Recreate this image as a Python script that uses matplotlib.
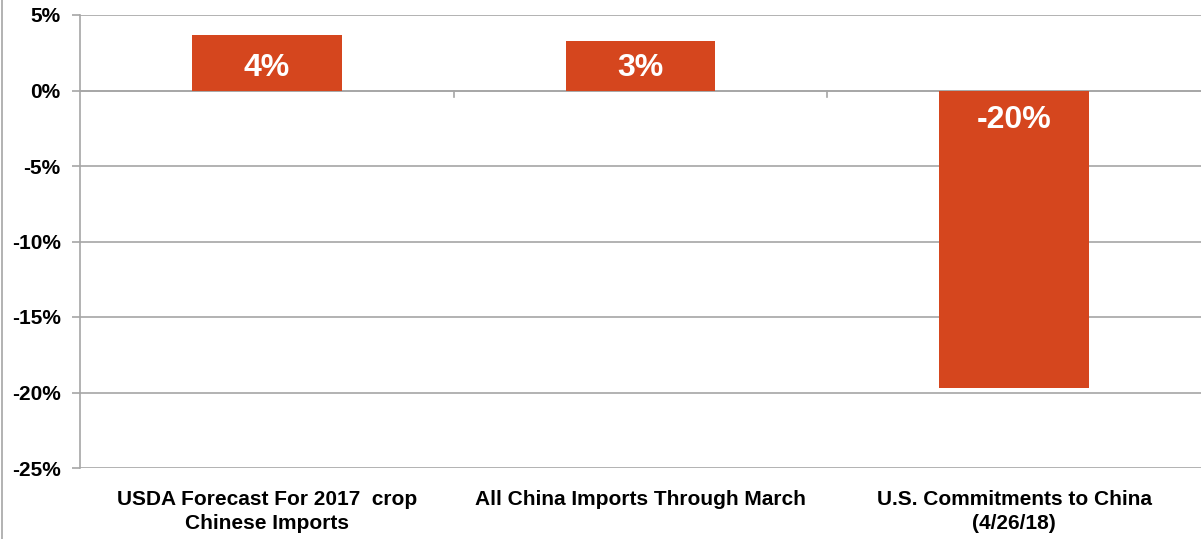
import matplotlib.pyplot as plt
from matplotlib.lines import Line2D

categories = ['USDA Forecast For 2017  crop\nChinese Imports',
              'All China Imports Through March',
              'U.S. Commitments to China\n(4/26/18)']
values = [3.7, 3.3, -19.7]
labels = ['4%', '3%', '-20%']
yticks = [5, 0, -5, -10, -15, -20, -25]

plt.rcParams['font.family'] = ['Liberation Sans Narrow', 'Liberation Sans', 'DejaVu Sans']
plt.rcParams['font.weight'] = 'bold'

fig = plt.figure(figsize=(12.01, 5.39), dpi=100)
ax = fig.add_axes([80 / 1201, 1 - 468 / 539, 1 - 80 / 1201, (468 - 15) / 539])

x = list(range(len(categories)))
bars = ax.bar(x, values, width=0.4, color='#D5461E', zorder=3)

# labels sit inside the bar, near the zero line
for i, (v, lab) in enumerate(zip(values, labels)):
    off = 22 if v > 0 else -30
    ax.annotate(lab, xy=(i, 0), xytext=(0, off),
                textcoords='offset pixels', ha='center', va='center',
                color='white', fontsize=23, fontweight='bold', zorder=4)

ax.set_xlim(-0.5, 2.5)
ax.set_ylim(-25, 5)
ax.set_yticks(yticks)
ax.set_yticklabels([f'{t}%' for t in yticks], fontsize=15, fontweight='bold')
ax.tick_params(axis='y', length=6, color='#a6a6a6', width=1.2, pad=8)
ax.set_xticks(x)
ax.set_xticklabels(categories, fontsize=15, fontweight='bold', linespacing=1.3)
ax.tick_params(axis='x', length=0, pad=16)
ax.grid(axis='y', color='#a6a6a6', linewidth=1.2, zorder=0)

# category boundary ticks below the zero line
for b in [0.5, 1.5]:
    ax.plot([b, b], [0, -0.4], color='#a6a6a6', linewidth=1.2, zorder=2)
ax.axhline(0, color='#a6a6a6', linewidth=1.2, zorder=2)

for s in ['top', 'right', 'bottom']:
    ax.spines[s].set_visible(False)
ax.spines['left'].set_color('#a6a6a6')
ax.spines['left'].set_linewidth(1.2)

fig.add_artist(Line2D([2 / 1201, 2 / 1201], [0, 1], color='#a6a6a6', linewidth=1.2))

fig.savefig('out.png', dpi=100)
